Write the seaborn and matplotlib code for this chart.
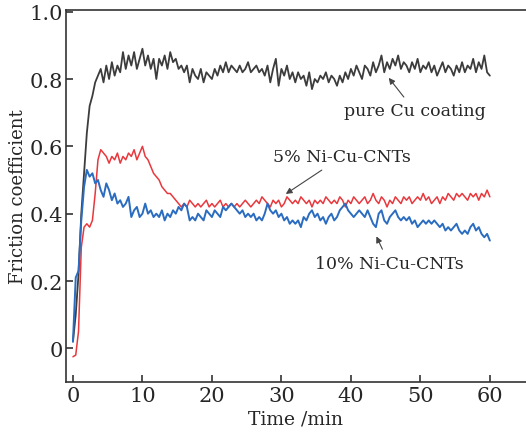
import numpy as np
import pandas as pd
import matplotlib
matplotlib.use("Agg")
import matplotlib.pyplot as plt
import seaborn as sns

# sampling grid (min), values every 0.4 min
time_min = np.round(np.arange(0, 60.01, 0.4), 1)

pure_cu = [
    0.02, 0.10, 0.22, 0.40, 0.52, 0.64, 0.72, 0.75, 0.79, 0.81,
    0.83, 0.79, 0.84, 0.80, 0.85, 0.81, 0.84, 0.82, 0.88, 0.83,
    0.87, 0.84, 0.88, 0.83, 0.86, 0.89, 0.84, 0.87, 0.83, 0.86,
    0.80, 0.86, 0.84, 0.87, 0.83, 0.88, 0.85, 0.86, 0.83, 0.84,
    0.82, 0.84, 0.79, 0.83, 0.81, 0.80, 0.83, 0.79, 0.82, 0.81,
    0.80, 0.83, 0.81, 0.84, 0.82, 0.85, 0.82, 0.84, 0.83, 0.82,
    0.84, 0.82, 0.83, 0.85, 0.82, 0.83, 0.84, 0.82, 0.83, 0.81,
    0.84, 0.79, 0.83, 0.86, 0.78, 0.83, 0.81, 0.84, 0.80, 0.82,
    0.79, 0.82, 0.80, 0.81, 0.78, 0.82, 0.77, 0.80, 0.79, 0.81,
    0.80, 0.82, 0.79, 0.81, 0.80, 0.78, 0.81, 0.79, 0.82, 0.80,
    0.83, 0.81, 0.84, 0.82, 0.80, 0.84, 0.83, 0.81, 0.85, 0.82,
    0.84, 0.87, 0.82, 0.85, 0.83, 0.86, 0.84, 0.87, 0.83, 0.85,
    0.84, 0.82, 0.85, 0.83, 0.86, 0.82, 0.84, 0.83, 0.85, 0.82,
    0.84, 0.81, 0.83, 0.85, 0.82, 0.84, 0.83, 0.81, 0.84, 0.82,
    0.85, 0.82, 0.84, 0.83, 0.86, 0.82, 0.85, 0.83, 0.87, 0.82,
    0.81,
]

ni_5 = [
    -0.025, -0.02, 0.05, 0.30, 0.36, 0.37, 0.36, 0.38, 0.46, 0.56,
    0.59, 0.58, 0.57, 0.55, 0.57, 0.56, 0.58, 0.55, 0.57, 0.56,
    0.58, 0.57, 0.59, 0.56, 0.58, 0.60, 0.57, 0.56, 0.54, 0.52,
    0.51, 0.50, 0.48, 0.47, 0.46, 0.46, 0.45, 0.44, 0.43, 0.42,
    0.43, 0.42, 0.44, 0.43, 0.42, 0.43, 0.42, 0.43, 0.44, 0.42,
    0.43, 0.42, 0.43, 0.44, 0.42, 0.43, 0.42, 0.43, 0.42, 0.43,
    0.42, 0.43, 0.44, 0.43, 0.42, 0.43, 0.44, 0.43, 0.45, 0.44,
    0.43, 0.42, 0.44, 0.43, 0.44, 0.42, 0.43, 0.45, 0.44, 0.43,
    0.44, 0.43, 0.45, 0.44, 0.43, 0.44, 0.42, 0.44, 0.43, 0.44,
    0.43, 0.45, 0.44, 0.43, 0.44, 0.43, 0.45, 0.44, 0.42, 0.44,
    0.43, 0.45, 0.44, 0.43, 0.44, 0.45, 0.43, 0.44, 0.46, 0.44,
    0.43, 0.45, 0.44, 0.42, 0.44, 0.43, 0.45, 0.44, 0.43, 0.45,
    0.44, 0.45, 0.43, 0.44, 0.45, 0.44, 0.46, 0.44, 0.45, 0.43,
    0.44, 0.45, 0.43, 0.45, 0.44, 0.46, 0.45, 0.44, 0.46, 0.45,
    0.46, 0.45, 0.44, 0.46, 0.45, 0.46, 0.44, 0.46, 0.45, 0.47,
    0.45,
]

ni_10 = [
    0.02, 0.21, 0.23, 0.38, 0.48, 0.53, 0.51, 0.52, 0.49, 0.50,
    0.47, 0.45, 0.49, 0.47, 0.44, 0.46, 0.43, 0.44, 0.42, 0.43,
    0.45, 0.39, 0.41, 0.42, 0.39, 0.40, 0.43, 0.40, 0.41, 0.39,
    0.40, 0.39, 0.41, 0.38, 0.40, 0.39, 0.41, 0.40, 0.42, 0.41,
    0.43, 0.42, 0.38, 0.39, 0.38, 0.40, 0.39, 0.38, 0.41, 0.40,
    0.39, 0.41, 0.40, 0.39, 0.42, 0.41, 0.42, 0.43, 0.42, 0.41,
    0.40, 0.41, 0.39, 0.40, 0.39, 0.40, 0.38, 0.39, 0.38, 0.40,
    0.43, 0.41, 0.40, 0.41, 0.39, 0.40, 0.38, 0.39, 0.37, 0.38,
    0.37, 0.38, 0.36, 0.39, 0.38, 0.40, 0.41, 0.39, 0.40, 0.38,
    0.39, 0.37, 0.39, 0.40, 0.38, 0.39, 0.41, 0.42, 0.43, 0.41,
    0.40, 0.39, 0.40, 0.41, 0.40, 0.39, 0.41, 0.39, 0.37, 0.36,
    0.40, 0.41, 0.38, 0.37, 0.39, 0.40, 0.41, 0.39, 0.38, 0.39,
    0.38, 0.39, 0.37, 0.38, 0.36, 0.37, 0.38, 0.37, 0.38, 0.37,
    0.38, 0.37, 0.36, 0.37, 0.35, 0.36, 0.35, 0.36, 0.37, 0.35,
    0.34, 0.35, 0.34, 0.36, 0.37, 0.35, 0.36, 0.34, 0.33, 0.34,
    0.32,
]

x_ticks = [0, 10, 20, 30, 40, 50, 60]
y_ticks = [0, 0.2, 0.4, 0.6, 0.8, 1.0]
y_ticklabels = ["0", "0.2", "0.4", "0.6", "0.8", "1.0"]

df = pd.DataFrame({"t": time_min, "cu": pure_cu, "ni5": ni_5, "ni10": ni_10})

sns.set_style("ticks")
plt.rcParams["font.family"] = ["DejaVu Serif"]
plt.rcParams["xtick.direction"] = "in"
plt.rcParams["ytick.direction"] = "in"

fig = plt.figure(figsize=(5.26, 4.35), dpi=100)
ax = fig.add_axes([66 / 526, 52 / 435, 1 - 66 / 526, 372 / 435])

sns.lineplot(data=df, x="t", y="cu", ax=ax, color="#3c3c3c", lw=1.3)
sns.lineplot(data=df, x="t", y="ni5", ax=ax, color="#e8383d", lw=1.1)
sns.lineplot(data=df, x="t", y="ni10", ax=ax, color="#2a6cc0", lw=1.4)

ax.set_xlim(-1, 65.2)
ax.set_ylim(-0.1, 1.005)
ax.set_xticks(x_ticks)
ax.set_yticks(y_ticks)
ax.set_yticklabels(y_ticklabels)
ax.tick_params(labelsize=15, length=5, width=1.2, color="#333333")
ax.tick_params(axis="y", pad=2)
ax.tick_params(axis="x", pad=3)
ax.set_xlabel("Time /min", fontsize=13.5, labelpad=3)
ax.set_ylabel("Friction coefficient", fontsize=13, labelpad=2)
for side in ["left", "bottom", "top"]:
    ax.spines[side].set_linewidth(1.2)
    ax.spines[side].set_color("#333333")
ax.spines["right"].set_visible(False)

arrow = dict(arrowstyle="-|>", color="#444444", lw=0.8, mutation_scale=9)
ax.annotate("pure Cu coating", xy=(45.2, 0.81), xytext=(49.2, 0.705),
            ha="center", va="center", fontsize=12.5, arrowprops=arrow)
ax.annotate("5% Ni-Cu-CNTs", xy=(30.3, 0.454), xytext=(38.7, 0.569),
            ha="center", va="center", fontsize=12.5, arrowprops=arrow)
ax.annotate("10% Ni-Cu-CNTs", xy=(43.5, 0.34), xytext=(45.5, 0.252),
            ha="center", va="center", fontsize=12.5, arrowprops=arrow)

fig.savefig("out.png", dpi=100)
